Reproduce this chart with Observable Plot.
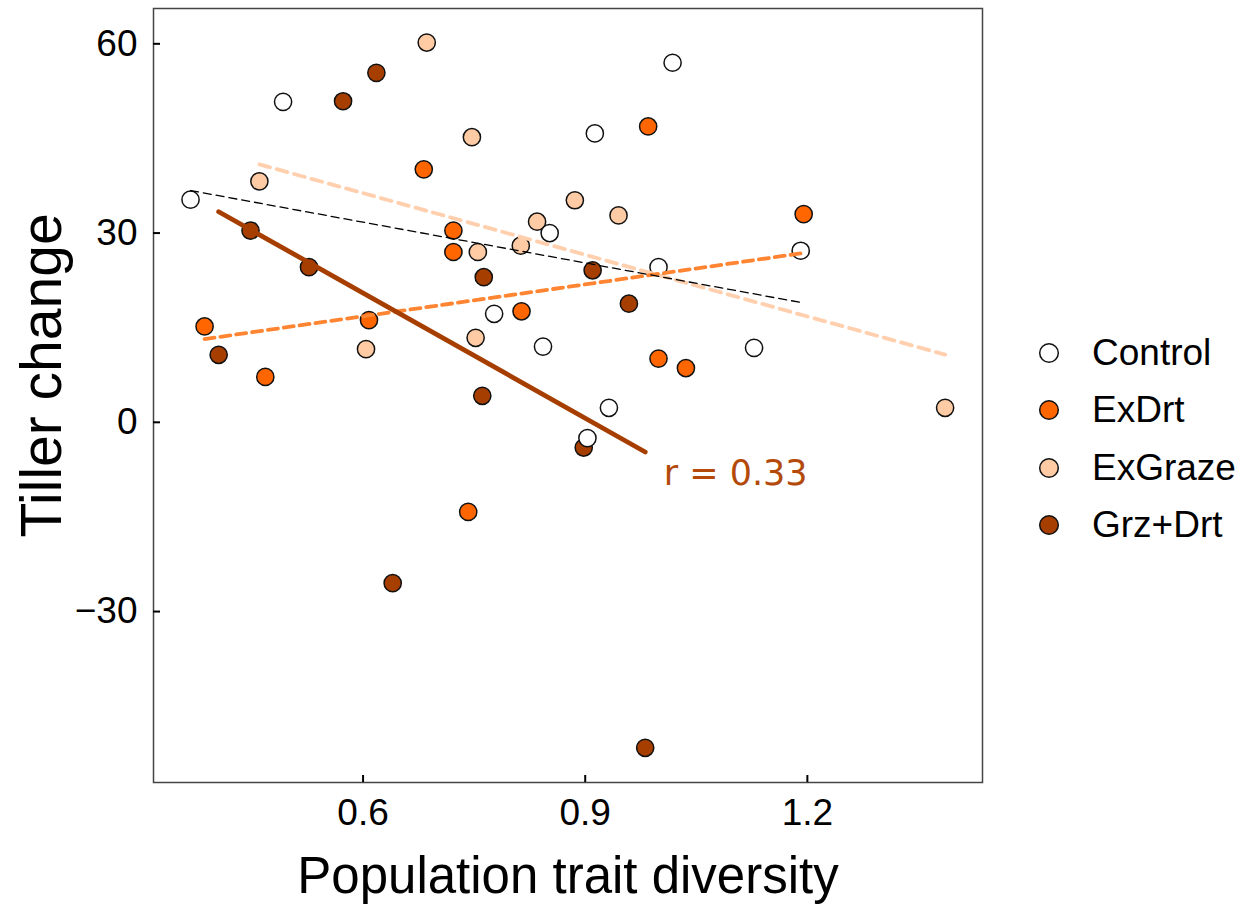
<!DOCTYPE html>
<html>
<head>
<meta charset="utf-8">
<script src="https://cdn.jsdelivr.net/npm/d3@7"></script>
<script src="https://cdn.jsdelivr.net/npm/@observablehq/plot@0.6"></script>
<style>
  html, body { margin: 0; padding: 0; background: #fff; }
  #wrap { position: relative; width: 1255px; height: 904px; }
  #legend { position: absolute; left: 1030px; top: 324px; font-family: "Liberation Sans", Arial, sans-serif; font-size: 37px; color: #000; }
  .row { display: flex; align-items: center; height: 57.5px; }
  .row svg { margin-left: 8px; margin-right: 32px; }
</style>
</head>
<body>
<div id="wrap"><div id="legend"></div></div>
<script>
// Treatment groups and styling
const groups = ["Control", "ExDrt", "ExGraze", "Grz+Drt"];
const fills = ["#ffffff", "#ff6600", "#ffcba4", "#a63e00"];

// Points (x = population trait diversity, y = tiller change)
const controlX = [0.367, 0.492, 0.852, 0.777, 0.843, 1.018, 0.913, 1.191, 0.999, 1.128, 0.932, 0.903];
const controlY = [35.3, 50.8, 30.0, 17.2, 12.0, 57.0, 45.8, 27.2, 24.6, 11.8, 2.3, -2.5];
const exDrtX = [0.682, 0.722, 0.722, 0.814, 0.386, 0.608, 0.468, 0.985, 1.195, 0.999, 1.036, 0.742];
const exDrtY = [40.1, 30.4, 27.0, 17.6, 15.2, 16.2, 7.2, 46.9, 33.0, 10.1, 8.6, -14.2];
const exGrazeX = [0.686, 0.747, 0.460, 0.755, 0.835, 0.813, 0.752, 0.604, 0.886, 0.945, 1.386];
const exGrazeY = [60.2, 45.2, 38.2, 27.0, 31.8, 28.0, 13.4, 11.6, 35.2, 32.8, 2.3];
const grzDrtX = [0.618, 0.573, 0.448, 0.763, 0.527, 0.405, 0.761, 0.910, 0.959, 0.898, 0.640, 0.981];
const grzDrtY = [55.4, 50.9, 30.4, 23.0, 24.6, 10.7, 4.2, 24.1, 18.8, -4.0, -25.5, -51.6];

// Axis ticks
const xTicks = [0.6, 0.9, 1.2];
const yTicks = [-30, 0, 30, 60];

// Annotation
const annX = [1.006];
const annY = [-10.0];
const annText = ["r = 0.33"];

const series = [
  {group: "Grz+Drt", xs: grzDrtX, ys: grzDrtY},
  {group: "ExGraze", xs: exGrazeX, ys: exGrazeY},
  {group: "ExDrt", xs: exDrtX, ys: exDrtY},
  {group: "Control", xs: controlX, ys: controlY}
];
const data = series.flatMap(s => s.xs.map((x, i) => ({group: s.group, x, y: s.ys[i]})));
const ofGroup = g => data.filter(d => d.group === g);

const lineStyles = {
  "Control": {stroke: "#000000", strokeWidth: 1.3, strokeDasharray: "8,5"},
  "ExDrt": {stroke: "#ff8533", strokeWidth: 3.8, strokeDasharray: "10,6"},
  "ExGraze": {stroke: "#ffcfae", strokeWidth: 3.8, strokeDasharray: "11,7"},
  "Grz+Drt": {stroke: "#a63e00", strokeWidth: 4.8}
};

const chart = Plot.plot({
  width: 1255,
  height: 904,
  marginLeft: 153,
  marginRight: 273,
  marginTop: 8,
  marginBottom: 122,
  style: {fontFamily: "'Liberation Sans', Arial, sans-serif", background: "#fff", color: "#000"},
  x: {domain: [0.317, 1.4365], axis: null},
  y: {domain: [-57.1, 65.6], axis: null},
  color: {domain: groups, range: fills},
  marks: [
    Plot.dot(data, {x: "x", y: "y", fill: "group", r: 8.6, stroke: "#111", strokeWidth: 1.5}),
    ...["ExGraze", "ExDrt", "Control", "Grz+Drt"].map(g =>
      Plot.linearRegressionY(ofGroup(g), {x: "x", y: "y", ci: 0, ...lineStyles[g]})
    ),
    Plot.frame({stroke: "#444", strokeWidth: 1.5}),
    Plot.axisX(xTicks, {anchor: "bottom", label: null, tickSize: 7, dy: -7, tickFormat: () => "", stroke: "#000", strokeWidth: 2}),
    Plot.axisX(xTicks, {anchor: "bottom", label: null, tickSize: 0, tickPadding: 16, fontSize: 37, fill: "#000"}),
    Plot.axisY(yTicks, {anchor: "left", label: null, tickSize: 7, dx: 7, tickFormat: () => "", stroke: "#000", strokeWidth: 2}),
    Plot.axisY(yTicks, {anchor: "left", label: null, tickSize: 0, tickPadding: 16, fontSize: 37, fill: "#000"}),
    Plot.text(["Population trait diversity"], {frameAnchor: "bottom", textAnchor: "middle", dy: 94, lineAnchor: "middle", fontSize: 51, fill: "#000"}),
    Plot.text(["Tiller change"], {frameAnchor: "left", textAnchor: "middle", dx: -111, dy: -20, rotate: -90, lineAnchor: "middle", fontSize: 57, fill: "#000"}),
    Plot.text(annText, {x: annX, y: annY, text: d => d, textAnchor: "start", lineAnchor: "bottom", fontSize: 35, fill: "#b34a0a", fontFamily: "'DejaVu Sans', sans-serif"})
  ]
});

const wrap = document.getElementById("wrap");
wrap.insertBefore(chart, wrap.firstChild);

// Legend
const legend = document.getElementById("legend");
groups.forEach((g, i) => {
  const row = document.createElement("div");
  row.className = "row";
  row.innerHTML = `<svg width="22" height="22" viewBox="0 0 22 22"><circle cx="11" cy="11" r="9.3" fill="${fills[i]}" stroke="#111" stroke-width="1.5"/></svg><span>${g}</span>`;
  legend.appendChild(row);
});
</script>
</body>
</html>
